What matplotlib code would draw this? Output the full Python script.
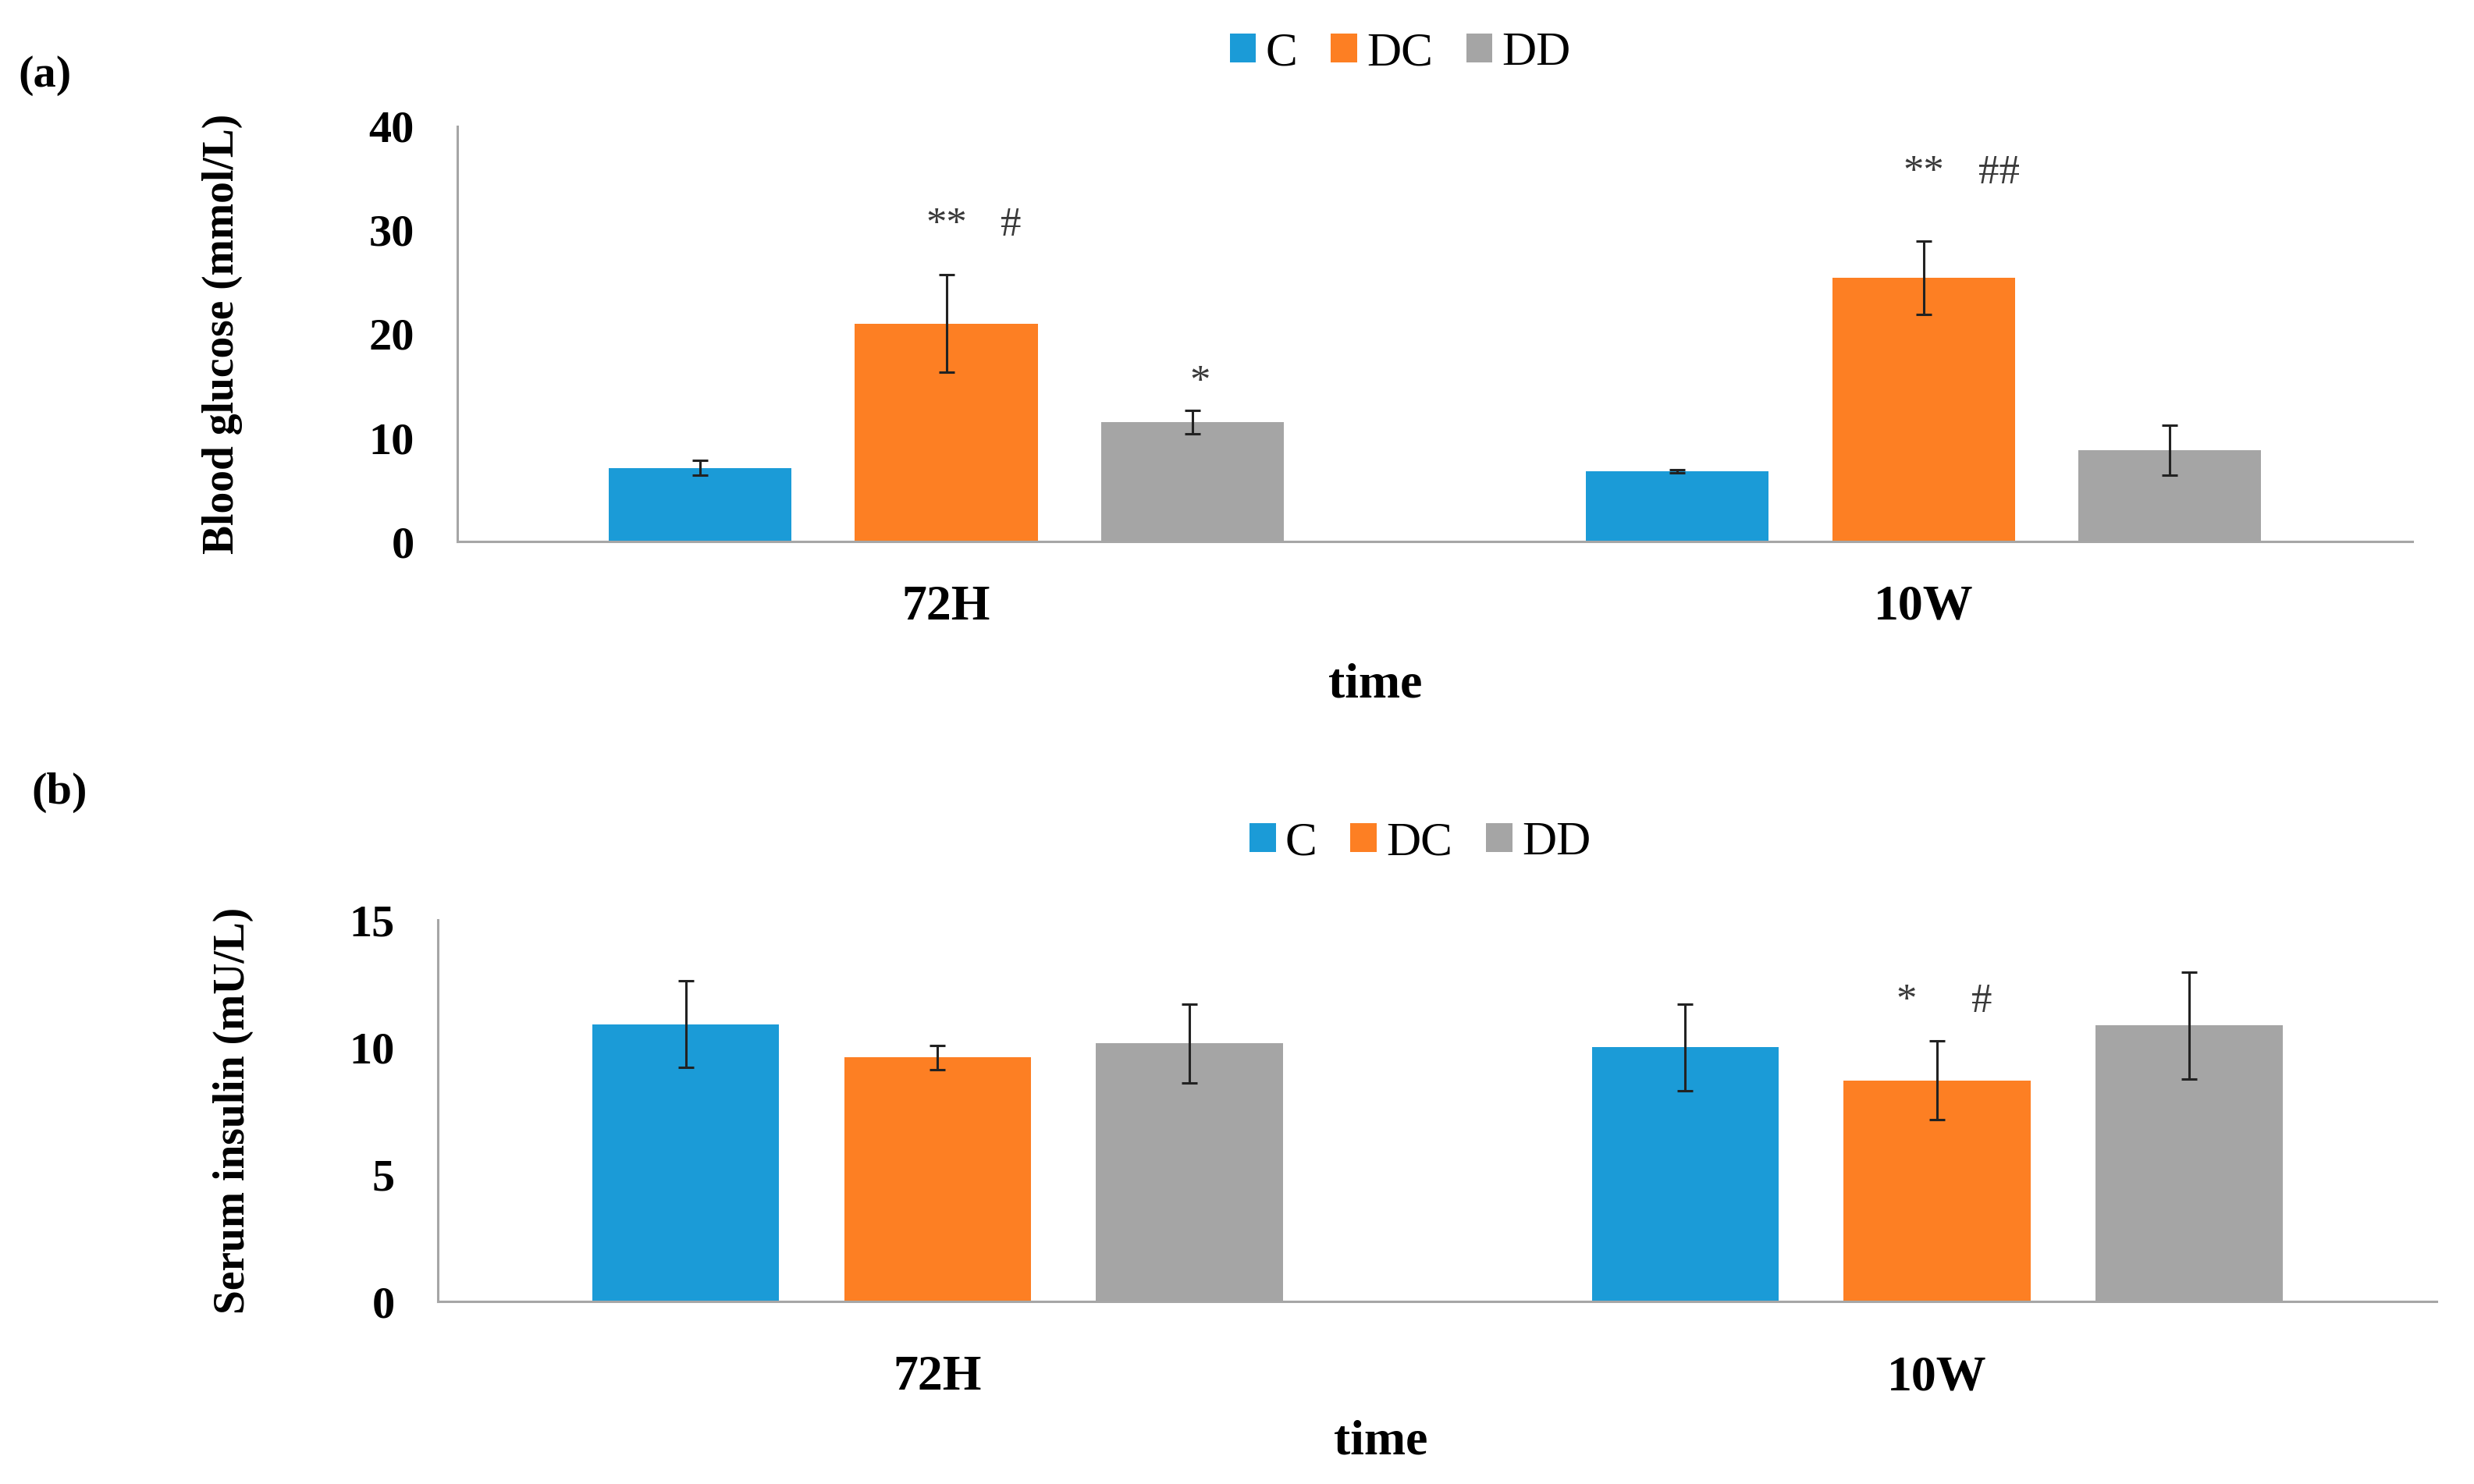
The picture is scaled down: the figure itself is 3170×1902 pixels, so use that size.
import numpy as np
import matplotlib
matplotlib.use('Agg')
import matplotlib.pyplot as plt
from matplotlib.patches import Patch

plt.rcParams['font.family'] = ['Liberation Serif', 'DejaVu Serif']

# data
groups = ['C', 'DC', 'DD']
times = ['72H', '10W']
colors = ['#1B9BD7', '#FD7F23', '#A5A5A5']

glucose_C = [7.1, 6.8]
glucose_DC = [21.0, 25.4]
glucose_DD = [11.5, 8.8]
glucose_C_err = [0.7, 0.15]
glucose_DC_err = [4.7, 3.5]
glucose_DD_err = [1.15, 2.4]

insulin_C = [10.9, 10.0]
insulin_DC = [9.6, 8.7]
insulin_DD = [10.15, 10.85]
insulin_C_err = [1.7, 1.7]
insulin_DC_err = [0.47, 1.55]
insulin_DD_err = [1.55, 2.1]

# significance marks
glucose_marks = ['**', '#', '*', '**', '##']
insulin_marks = ['*', '#']

fig = plt.figure(figsize=(15.85, 9.51), dpi=200)

offsets = [-0.252, 0.0, 0.252]
width = 0.187
x = np.arange(len(times))


def draw_panel(ax, means, errs, ymax, ystep, ylabel, xpad, lpad):
    for i in range(3):
        ax.bar(x + offsets[i], means[i], width, color=colors[i], zorder=2)
        ax.errorbar(x + offsets[i], means[i], yerr=errs[i], fmt='none',
                    ecolor='#222222', elinewidth=1.1, capsize=3.5,
                    capthick=1.1, zorder=3)
    ax.set_xlim(-0.5, 1.5)
    ax.set_ylim(0, ymax)
    ax.set_yticks(np.arange(0, ymax + 1, ystep))
    ax.set_xticks(x)
    ax.set_xticklabels(times, fontsize=23, fontweight='bold')
    for t in ax.get_yticklabels():
        t.set_fontsize(21)
        t.set_fontweight('bold')
    ax.tick_params(axis='y', length=0, pad=20)
    ax.tick_params(axis='x', length=0, pad=xpad)
    for s in ['top', 'right']:
        ax.spines[s].set_visible(False)
    for s in ['left', 'bottom']:
        ax.spines[s].set_color('#A6A6A6')
        ax.spines[s].set_linewidth(1.1)
    ax.set_ylabel(ylabel, fontsize=20, fontweight='bold', labelpad=lpad)


# (a) blood glucose
ax1 = fig.add_axes([0.185, 0.635, 0.790, 0.280])
draw_panel(ax1, [glucose_C, glucose_DC, glucose_DD],
           [glucose_C_err, glucose_DC_err, glucose_DD_err],
           40, 10, 'Blood glucose (mmol/L)', 20, 58)
mark_pos_a = [(0.0, 30.4), (0.066, 30.4), (0.26, 15.3), (1.0, 35.5), (1.077, 35.5)]
for txt, (xx, yy) in zip(glucose_marks, mark_pos_a):
    ax1.text(xx, yy, txt, ha='center', va='center', fontsize=19,
             color='#3a3a3a')

# (b) serum insulin
ax2 = fig.add_axes([0.177, 0.123, 0.808, 0.257])
draw_panel(ax2, [insulin_C, insulin_DC, insulin_DD],
           [insulin_C_err, insulin_DC_err, insulin_DD_err],
           15, 5, 'Serum insulin (mU/L)', 25, 44)
mark_pos_b = [(0.969, 11.8), (1.045, 11.8)]
for txt, (xx, yy) in zip(insulin_marks, mark_pos_b):
    ax2.text(xx, yy, txt, ha='center', va='center', fontsize=19,
             color='#3a3a3a')

# legends
handles = [Patch(facecolor=c, edgecolor='none') for c in colors]
for ypos, xpos in [(0.964, 0.566), (0.432, 0.574)]:
    fig.legend(handles, groups, loc='center', bbox_to_anchor=(xpos, ypos),
               ncol=3, frameon=False, fontsize=22, handlelength=0.55,
               handleheight=0.55, handletextpad=0.2, columnspacing=0.7)

# axis titles and panel letters
fig.text(0.556, 0.538, 'time', ha='center', va='center', fontsize=23,
         fontweight='bold')
fig.text(0.558, 0.028, 'time', ha='center', va='center', fontsize=23,
         fontweight='bold')
fig.text(0.018, 0.949, '(a)', ha='center', va='center', fontsize=21,
         fontweight='bold')
fig.text(0.024, 0.466, '(b)', ha='center', va='center', fontsize=21,
         fontweight='bold')

fig.savefig('out.png', dpi=200)
